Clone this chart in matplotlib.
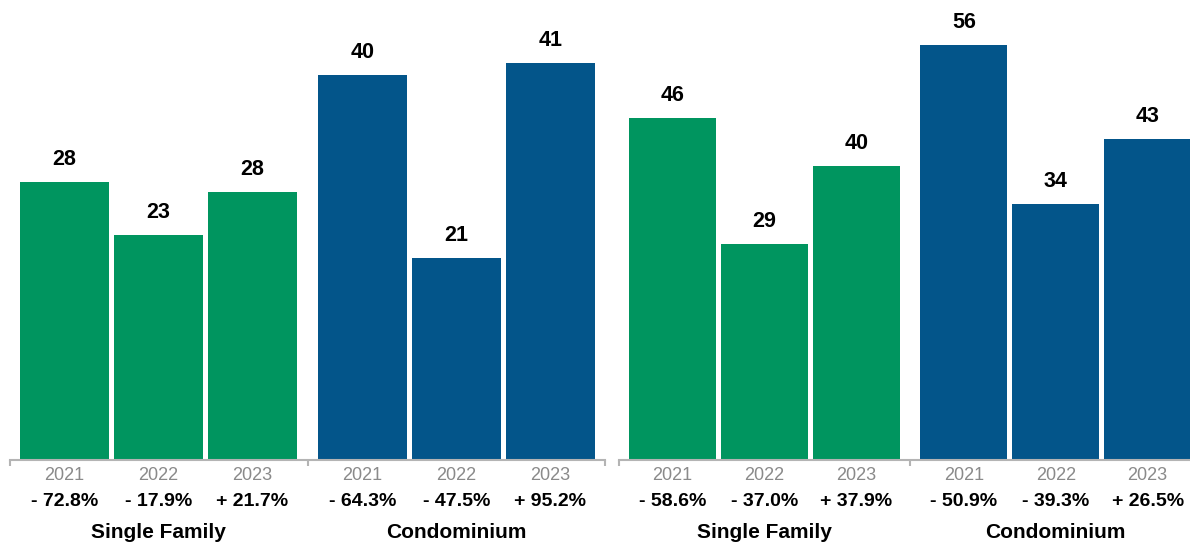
"""Two-panel grouped bar chart: Single Family vs Condominium, 2021-2023."""
import matplotlib
matplotlib.use("Agg")
import matplotlib.pyplot as plt

GREEN = "#00955f"
BLUE = "#03558a"
AXIS_GREY = "#b4b4b4"

years = ["2021", "2022", "2023"]
groups = ["Single Family", "Condominium"]

# left panel
left_values = [28.7, 23.2, 27.6, 39.7, 20.8, 40.9]
left_labels = ["28", "23", "28", "40", "21", "41"]
left_changes = ["- 72.8%", "- 17.9%", "+ 21.7%", "- 64.3%", "- 47.5%", "+ 95.2%"]

# right panel
right_values = [46.0, 29.1, 39.6, 55.9, 34.5, 43.2]
right_labels = ["46", "29", "40", "56", "34", "43"]
right_changes = ["- 58.6%", "- 37.0%", "+ 37.9%", "- 50.9%", "- 39.3%", "+ 26.5%"]

plt.rcParams["font.family"] = ["Liberation Sans", "DejaVu Sans"]

W, H = 1190, 545
BASE = 460  # baseline, px from top


def panel(fig, x0, width_px, values, labels, changes, ymax):
    ax = fig.add_axes([x0 / W, (H - BASE) / H, width_px / W, BASE / H])
    pos = [0, 1, 2, 3.17, 4.17, 5.17]
    colors = [GREEN] * 3 + [BLUE] * 3
    bars = ax.bar(pos, values, width=0.947, color=colors)
    ax.set_xlim(-0.58, 5.75)
    ax.set_ylim(0, ymax)
    for s in ["top", "right", "left"]:
        ax.spines[s].set_visible(False)
    ax.spines["bottom"].set_color(AXIS_GREY)
    ax.spines["bottom"].set_linewidth(1.5)
    ax.set_yticks([])
    ax.set_xticks([-0.58, 2.585, 5.75])
    ax.set_xticklabels([])
    ax.tick_params(axis="x", length=4.5, width=1.5, color=AXIS_GREY, direction="out")

    for b, lab in zip(bars, labels):
        ax.annotate(lab, (b.get_x() + b.get_width() / 2, b.get_height()),
                    xytext=(0, 17), textcoords="offset pixels",
                    ha="center", va="baseline", fontsize=15.5,
                    fontweight="bold", color="black")
    for i, p in enumerate(pos):
        ax.annotate(years[i % 3], (p, 0), xytext=(0, -15), textcoords="offset pixels",
                    ha="center", va="center", fontsize=13, color="#8a8a8a",
                    annotation_clip=False)
        ax.annotate(changes[i], (p, 0), xytext=(0, -41), textcoords="offset pixels",
                    ha="center", va="center", fontsize=14, fontweight="bold",
                    color="black", annotation_clip=False)
    for g, c in zip(groups, [1, 4.17]):
        ax.annotate(g, (c, 0), xytext=(0, -72), textcoords="offset pixels",
                    ha="center", va="center", fontsize=15, fontweight="bold",
                    color="black", annotation_clip=False)
    return ax


def main():
    fig = plt.figure(figsize=(W / 100, H / 100), dpi=100)
    panel(fig, 10, 595, left_values, left_labels, left_changes, 460 / 9.7)
    panel(fig, 619, 582, right_values, right_labels, right_changes, 460 / 7.43)
    fig.savefig("out.png", dpi=100)


if __name__ == "__main__":
    main()
